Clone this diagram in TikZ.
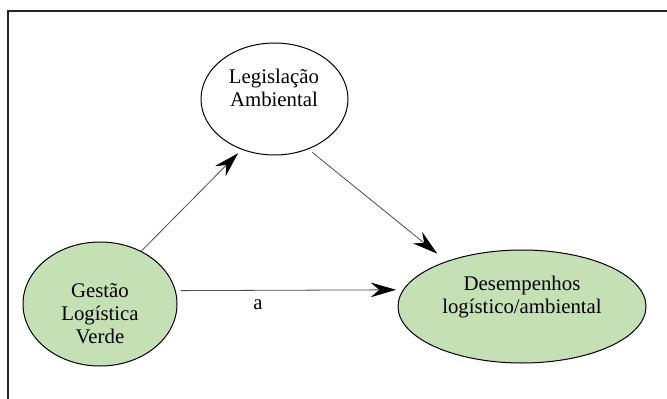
\documentclass[tikz,border=0pt]{standalone}
\usepackage{fontspec}
\setmainfont{Liberation Serif}
\usepackage{tikz}
\usetikzlibrary{shapes.geometric,arrows.meta}

\definecolor{greenfill}{RGB}{197,224,180}

\tikzset{
  bubble/.style={draw=black,line width=0.75pt,ellipse,inner sep=0pt},
  label txt/.style={align=center,inner sep=0.75pt,font=\fontsize{15.6}{17.25}\selectfont},
  link/.style={draw=black!70,line width=0.6pt,-{Stealth[length=19pt,width=11pt,inset=6.5pt,black]}}
}

\begin{document}
\begin{tikzpicture}[x=0.75pt,y=0.75pt,yscale=-1,xscale=1]
\useasboundingbox (0,0) rectangle (667,399);

%Frame
\draw [line width=1.5pt,black!85] (8,399) -- (8,11) -- (667,11) ;

%Ellipses (sizes in pt)
\node [bubble,fill=white,minimum width=110.25pt,minimum height=84pt] (la) at (274.5,99) {};
\node [bubble,fill=greenfill,minimum width=115.5pt,minimum height=93pt] (gv) at (100,304) {};
\node [bubble,fill=greenfill,minimum width=186pt,minimum height=84.75pt] (ds) at (522,306.5) {};

% Text Node
\node [label txt] (latxt) at (274,88) {Legislação\\Ambiental};
% Text Node
\node [label txt] (gvtxt) at (100,314) {Gestão\\Logística\\Verde};
% Text Node
\node [label txt] (dstxt) at (522,297) {Desempenhos\\logístico/ambiental};
% Text Node
\node [label txt] (atxt) at (258,305) {a};

%Arrows
\draw [link,shorten >=3.75pt] (gv.52) -- (la.237) ;
\draw [link,shorten <=3.75pt,shorten >=9pt] (la.304) -- (ds.149) ;
\draw [link,shorten <=3.75pt,shorten >=5.25pt] (gv.10.6) -- (ds.172.1) ;

\end{tikzpicture}
\end{document}
